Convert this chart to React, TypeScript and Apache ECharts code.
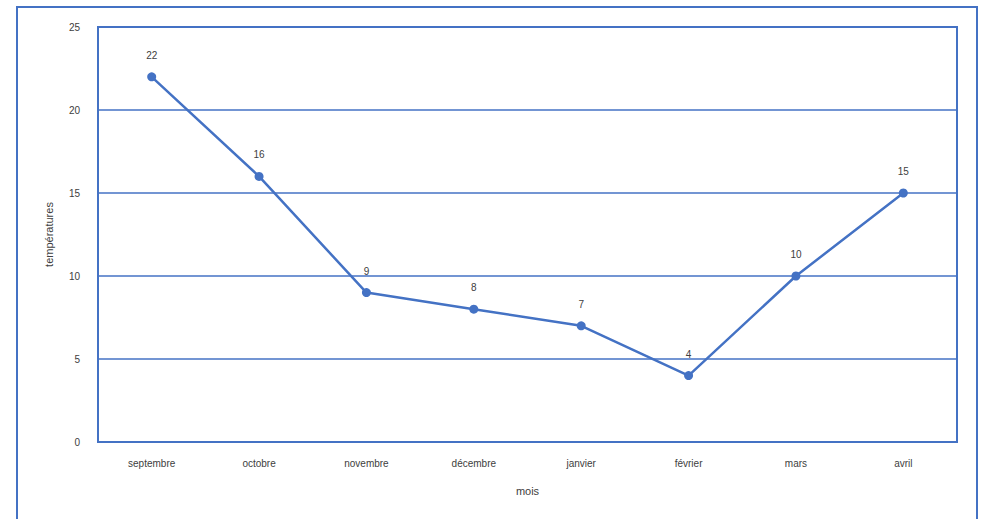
import React, { useEffect, useRef } from "react";
import * as echarts from "echarts";

const categories = ["septembre", "octobre", "novembre", "décembre", "janvier", "février", "mars", "avril"];
const temperatures = [22, 16, 9, 8, 7, 4, 10, 15];
const xName = "mois";
const yName = "températures";

export default function App() {
  const ref = useRef<HTMLDivElement>(null);
  useEffect(() => {
    const chart = echarts.init(ref.current!, null, { renderer: "svg" });
    const blue = "#4472C4";
    const text = "#404040";
    chart.setOption({
      animation: false,
      backgroundColor: "#fff",
      textStyle: { fontFamily: "Liberation Sans" },
      graphic: [
        {
          type: "rect",
          shape: { x: 17, y: 7, width: 960, height: 530 },
          style: { fill: "none", stroke: blue, lineWidth: 2 },
          silent: true,
        },
      ],
      grid: {
        left: 98,
        right: 27,
        top: 27,
        bottom: 77,
        show: true,
        borderColor: blue,
        borderWidth: 2,
        backgroundColor: "transparent",
      },
      xAxis: {
        type: "category",
        data: categories,
        boundaryGap: true,
        name: xName,
        nameLocation: "middle",
        nameGap: 43,
        nameTextStyle: { color: text, fontSize: 11 },
        axisLine: { lineStyle: { color: blue, width: 2 } },
        axisTick: { show: false },
        axisLabel: { color: text, fontSize: 10, margin: 16 },
      },
      yAxis: {
        type: "value",
        min: 0,
        max: 25,
        interval: 5,
        name: yName,
        nameLocation: "middle",
        nameGap: 44,
        nameTextStyle: { color: text, fontSize: 11 },
        axisLine: { show: true, lineStyle: { color: blue, width: 2 } },
        axisTick: { show: false },
        axisLabel: { color: text, fontSize: 10, margin: 18 },
        splitLine: { lineStyle: { color: blue, width: 1.5 } },
      },
      series: [
        {
          type: "line",
          data: temperatures,
          symbol: "circle",
          symbolSize: 9,
          lineStyle: { color: blue, width: 2.5 },
          itemStyle: { color: blue },
          label: { show: true, position: "top", distance: 12, color: text, fontSize: 10 },
        },
      ],
    });
    return () => chart.dispose();
  }, []);
  return (
    <div
      ref={ref}
      style={{ position: "fixed", left: 0, top: 0, width: 984, height: 519 }}
    />
  );
}
